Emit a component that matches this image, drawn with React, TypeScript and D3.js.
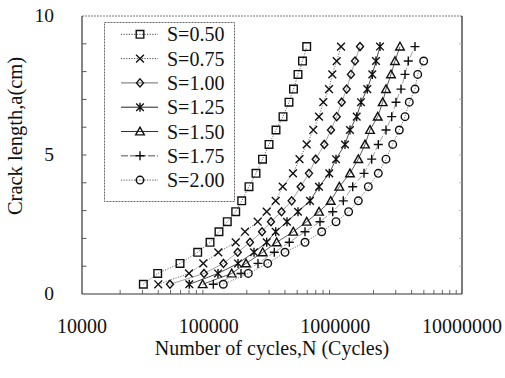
import React from 'react';
import * as d3 from 'd3';

const seriesNames = ['S=0.50', 'S=0.75', 'S=1.00', 'S=1.25', 'S=1.50', 'S=1.75', 'S=2.00'];
const markerTypes = ['square', 'x', 'diamond', 'asterisk', 'triangle', 'plus', 'circle'];
const lineDashes = ['1.2,1.4', '1.2,1.4', '', '', '', '7,2', '1.2,1.4'];
const lineColors = ['#444', '#444', '#8a8a8a', '#222', '#333', '#8a8a8a', '#555'];

const crackLength = [0.35, 0.74, 1.10, 1.50, 1.86, 2.24, 2.60, 2.96, 3.35, 3.86, 4.34, 4.85, 5.38, 5.90, 6.38, 6.90, 7.37, 7.90, 8.38, 8.90];

const cyclesS050 = [30500, 39600, 59400, 81900, 102500, 120600, 140300, 163500, 182300, 208200, 236400, 266100, 299500, 340100, 386300, 430700, 467300, 507300, 550600, 594100];
const cyclesS075 = [40000, 69900, 90700, 119100, 163500, 193600, 243800, 287200, 338200, 384100, 463200, 521300, 594100, 669900, 743200, 803500, 891300, 946400, 1025200, 1108400];
const cyclesS100 = [49500, 91900, 130900, 169500, 212000, 263700, 310500, 375800, 452400, 532800, 619600, 699900, 818300, 924200, 1025200, 1122800, 1229500, 1329300, 1429700, 1565700];
const cyclesS125 = [70300, 118500, 170500, 228000, 287200, 338200, 415300, 507300, 631000, 743200, 896200, 1012300, 1192100, 1305300, 1474600, 1594400, 1788100, 1958000, 2094100, 2252200];
const cyclesS150 = [89700, 152000, 197100, 267100, 344400, 465800, 594100, 743200, 919200, 1074800, 1305300, 1518100, 1714900, 1878100, 2160400, 2365400, 2511900, 2751100, 2958800, 3239700];
const cyclesS175 = [108800, 180000, 245200, 329800, 433100, 576100, 756600, 953300, 1155800, 1371200, 1683900, 1936900, 2183800, 2511900, 2786200, 3012400, 3299100, 3548100, 3767100, 4255300];
const cyclesS200 = [130500, 205500, 292500, 400500, 576100, 780500, 1012300, 1273500, 1518100, 1821100, 2183800, 2511900, 2837200, 3198900, 3548100, 3836300, 4255300, 4470300, 4984400];

const allCycles = [cyclesS050, cyclesS075, cyclesS100, cyclesS125, cyclesS150, cyclesS175, cyclesS200];

const xTickValues = [1e4, 1e5, 1e6, 1e7];
const xTickLabels = ['10000', '100000', '1000000', '10000000'];
const yTickValues = [0, 5, 10];
const yTickLabels = ['0', '5', '10'];

const FONT = 'Liberation Serif';

function Marker({ type, cx, cy }: { type: string; cx: number; cy: number }) {
  const common = { fill: 'none', stroke: '#111', strokeWidth: 1.4 };
  const t = `translate(${cx},${cy})`;
  switch (type) {
    case 'square':
      return <path transform={t} d="M-3.8,-3.8h7.6v7.6h-7.6z" {...common} />;
    case 'x':
      return <path transform={t} d="M-3.9,-3.9L3.9,3.9M-3.9,3.9L3.9,-3.9" {...common} />;
    case 'diamond':
      return <path transform={t} d="M0,-4L3.5,0L0,4L-3.5,0Z" {...common} />;
    case 'asterisk':
      return <path transform={t} d="M-3.8,-3.8L3.8,3.8M-3.8,3.8L3.8,-3.8M0,-4.5V4.5" {...common} />;
    case 'triangle':
      return <path transform={t} d="M0,-4.3L4.3,3.4L-4.3,3.4Z" {...common} />;
    case 'plus':
      return <path transform={t} d="M-4.5,0H4.5M0,-4.5V4.5" {...common} />;
    default:
      return <circle cx={cx} cy={cy} r={3.8} {...common} />;
  }
}

export default function App() {
  const left = 82, right = 462, top = 16, bottom = 294;
  const x = d3.scaleLog().domain([1e4, 1e7]).range([left, right]);
  const y = d3.scaleLinear().domain([0, 10]).range([bottom, top]);

  const minorX: number[] = [];
  for (let e = 4; e < 7; e++) {
    for (let k = 2; k <= 9; k++) minorX.push(k * Math.pow(10, e));
  }
  const yMinor = d3.range(1, 10);

  const line = d3.line<[number, number]>().x(d => x(d[0])).y(d => y(d[1]));

  const legX = 104.5, legY = 22.5, legW = 130, legH = 179;
  const rowY = (i: number) => 34.3 + 24.3 * i;

  return (
    <svg width={505} height={378} style={{ position: 'absolute', left: 0, top: 0, background: '#fff' }}>
      <rect x={0} y={0} width={505} height={378} fill="#fff" />
      {/* frame */}
      <line x1={left} y1={top} x2={right} y2={top} stroke="#777" strokeWidth={1} strokeDasharray="2,1" />
      <line x1={left} y1={top} x2={left} y2={bottom} stroke="#333" strokeWidth={1.2} />
      <line x1={right} y1={top} x2={right} y2={bottom} stroke="#222" strokeWidth={1.2} />
      <line x1={left} y1={bottom} x2={right} y2={bottom} stroke="#333" strokeWidth={1.2} />

      {/* y ticks */}
      {yMinor.map(v => (
        <g key={'yt' + v}>
          <line x1={left} x2={left + 4.5} y1={y(v)} y2={y(v)} stroke="#555" strokeWidth={1} />
          <line x1={right} x2={right - 3} y1={y(v)} y2={y(v)} stroke="#aaa" strokeWidth={0.8} />
        </g>
      ))}
      {/* x ticks */}
      {minorX.map(v => (
        <line key={'xt' + v} x1={x(v)} x2={x(v)} y1={bottom} y2={bottom - 4} stroke="#555" strokeWidth={0.9} />
      ))}

      {/* tick labels */}
      {xTickValues.map((v, i) => (
        <text key={'xl' + v} x={x(v)} y={333} textAnchor="middle" fontSize={20} fontFamily={FONT} fill="#111">{xTickLabels[i]}</text>
      ))}
      {yTickValues.map((v, i) => (
        <text key={'yl' + v} x={54} y={y(v) + 6} textAnchor="end" fontSize={19.5} fontFamily={FONT} fill="#111">{yTickLabels[i]}</text>
      ))}

      {/* axis titles */}
      <text x={272} y={355} textAnchor="middle" fontSize={20} fontFamily={FONT} fill="#111">Number of cycles,N (Cycles)</text>
      <text transform="translate(22,136) rotate(-90)" textAnchor="middle" fontSize={20.5} fontFamily={FONT} fill="#111">Crack length,a(cm)</text>

      {/* series */}
      {allCycles.map((cyc, si) => {
        const pts: [number, number][] = cyc.map((n, i) => [n, crackLength[i]]);
        return (
          <g key={'s' + si}>
            <path d={line(pts) || ''} fill="none" stroke={lineColors[si]} strokeWidth={0.8}
              strokeDasharray={lineDashes[si] || undefined} />
            {pts.map((p, i) => (
              <Marker key={i} type={markerTypes[si]} cx={x(p[0])} cy={y(p[1])} />
            ))}
          </g>
        );
      })}

      {/* legend */}
      <rect x={legX} y={legY} width={legW} height={legH} fill="#fff" stroke="#666" strokeWidth={1} strokeDasharray="2,1" />
      {seriesNames.map((name, i) => (
        <g key={'lg' + i}>
          <line x1={121} x2={158} y1={rowY(i)} y2={rowY(i)} stroke={lineColors[i]} strokeWidth={i === 2 || i === 5 ? 1.4 : 1}
            strokeDasharray={lineDashes[i] || undefined} />
          <Marker type={markerTypes[i]} cx={140} cy={rowY(i)} />
          <text x={167} y={rowY(i) + 7} fontSize={20} fontFamily={FONT} fill="#111">{name}</text>
        </g>
      ))}
    </svg>
  );
}
